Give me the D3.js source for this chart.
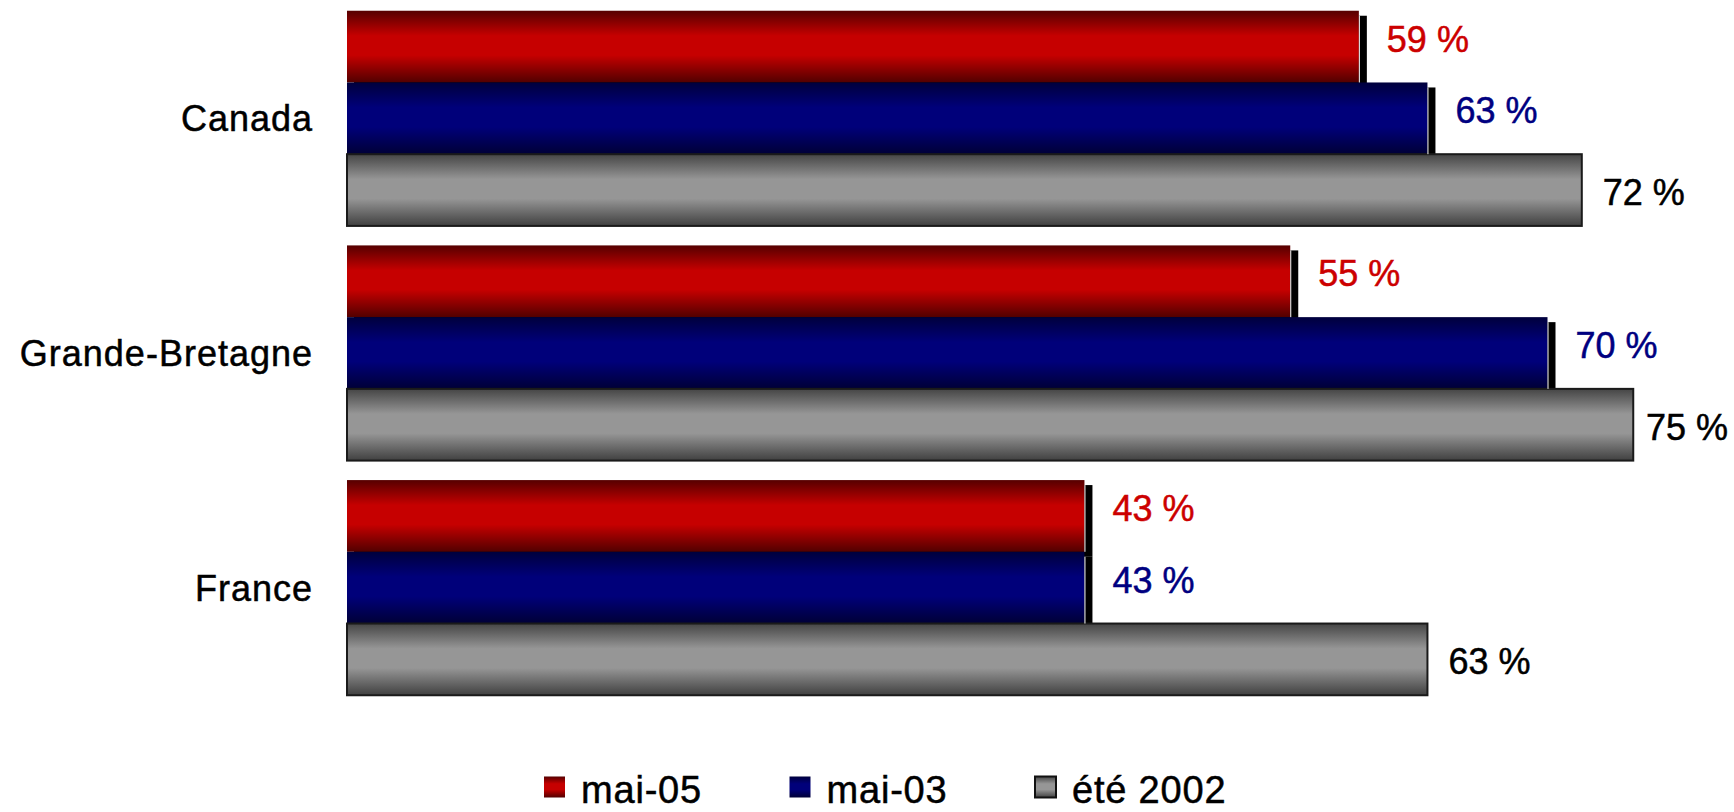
<!DOCTYPE html>
<html>
<head>
<meta charset="utf-8">
<script src="https://cdn.jsdelivr.net/npm/d3@7/dist/d3.min.js"></script>
<style>
  html, body { margin: 0; padding: 0; background: #fff; }
  svg { display: block; }
  text { font-family: "Liberation Sans", Arial, sans-serif; paint-order: stroke; stroke-width: 0.5px; }
</style>
</head>
<body>
<svg id="chart" width="1734" height="812"></svg>
<script>
// Pays interrogés
const categories = ["Canada", "Grande-Bretagne", "France"];
// Séries (vague d'enquête)
const seriesNames = ["mai-05", "mai-03", "été 2002"];
// Valeurs en %
const mai05 = [59, 55, 43];
const mai03 = [63, 70, 43];
const ete2002 = [72, 75, 63];

const seriesValues = [mai05, mai03, ete2002];
const seriesKeys = ["red", "blue", "gray"];
const labelColors = { red: "#cc0000", blue: "#000080", gray: "#000000" };

const W = 1734;
const svg = d3.select("#chart");
const defs = svg.append("defs");

// Dégradés verticaux « cylindre » pour chaque série
const gradients = {
  red:  [["0%", "#560000"], ["35%", "#c60000"], ["62%", "#c60000"], ["100%", "#520000"]],
  blue: [["0%", "#00003c"], ["35%", "#00007a"], ["62%", "#00007a"], ["100%", "#000036"]],
  gray: [["0%", "#454545"], ["35%", "#969696"], ["62%", "#969696"], ["100%", "#404040"]]
};
Object.entries(gradients).forEach(([k, stops]) => {
  const g = defs.append("linearGradient")
    .attr("id", "grad-" + k)
    .attr("x1", 0).attr("y1", 0).attr("x2", 0).attr("y2", 1);
  stops.forEach(([o, c]) => g.append("stop").attr("offset", o).attr("stop-color", c));
});

const x = d3.scaleLinear().domain([0, 100]).range([347, 2062]);
const y = d3.scaleBand().domain(categories).range([1, 705])
  .paddingInner(0.083).paddingOuter(0.0415);
const ySub = d3.scaleBand().domain(seriesKeys).range([0, y.bandwidth()]).padding(0);

const rows = categories.map((c, i) => ({
  cat: c,
  bars: seriesKeys.map((k, s) => ({ key: k, value: seriesValues[s][i] }))
}));

const groups = svg.selectAll("g.group").data(rows).join("g")
  .attr("class", "group")
  .attr("transform", d => `translate(0,${y(d.cat)})`);

// Ombres portées (rouge et bleu)
groups.selectAll("rect.shadow")
  .data(d => d.bars.filter(b => b.key !== "gray"))
  .join("rect")
  .attr("class", "shadow")
  .attr("x", x(0) + 7)
  .attr("y", d => ySub(d.key) + 5)
  .attr("width", d => x(d.value) - x(0) + 1)
  .attr("height", ySub.bandwidth())
  .attr("fill", "#000");

// Barres
groups.selectAll("rect.bar")
  .data(d => d.bars)
  .join("rect")
  .attr("class", "bar")
  .attr("x", x(0))
  .attr("y", d => ySub(d.key))
  .attr("width", d => x(d.value) - x(0))
  .attr("height", ySub.bandwidth())
  .attr("fill", d => `url(#grad-${d.key})`)
  .attr("stroke", d => d.key === "gray" ? "#1a1a1a" : "none")
  .attr("stroke-width", 2);

// Filet clair en bout de barre (rouge et bleu)
groups.selectAll("line.edge")
  .data(d => d.bars.filter(b => b.key !== "gray"))
  .join("line")
  .attr("class", "edge")
  .attr("x1", d => x(d.value) + 0.5)
  .attr("x2", d => x(d.value) + 0.5)
  .attr("y1", d => ySub(d.key) + 5)
  .attr("y2", d => ySub(d.key) + ySub.bandwidth())
  .attr("stroke", "#ffffff")
  .attr("stroke-width", 1);

// Étiquettes de valeur (maintenues dans la zone visible)
groups.selectAll("text.value")
  .data(d => d.bars)
  .join("text")
  .attr("class", "value")
  .attr("y", d => ySub(d.key) + ySub.bandwidth() / 2 + (d.key === "gray" ? 2 : -8))
  .attr("dy", "0.36em")
  .attr("font-size", 36)
  .attr("fill", d => labelColors[d.key])
  .attr("stroke", d => labelColors[d.key])
  .text(d => `${d.value} %`)
  .attr("x", function(d) {
    const want = x(d.value) + (d.key === "gray" ? 21 : 28);
    const w = this.getComputedTextLength();
    return Math.min(want, W - 6 - w);
  });

// Étiquettes de catégorie
groups.append("text")
  .attr("class", "cat")
  .attr("x", x(0) - 34)
  .attr("y", y.bandwidth() / 2)
  .attr("dy", "0.36em")
  .attr("text-anchor", "end")
  .attr("font-size", 36)
  .attr("letter-spacing", 1)
  .attr("fill", "#000")
  .attr("stroke", "#000")
  .text(d => d.cat);

// Légende
const legendX = d3.scalePoint().domain(seriesKeys).range([544, 1035]);
const legend = svg.append("g").attr("class", "legend");
const items = legend.selectAll("g").data(seriesKeys.map((k, i) => ({ key: k, name: seriesNames[i] })))
  .join("g")
  .attr("transform", d => `translate(${legendX(d.key)},776.5)`);
items.append("rect")
  .attr("width", 21).attr("height", 21)
  .attr("fill", d => `url(#grad-${d.key})`)
  .attr("stroke", d => d.key === "gray" ? "#111" : "none")
  .attr("stroke-width", 2);
items.append("text")
  .attr("x", 37)
  .attr("y", 26.5)
  .attr("font-size", 38)
  .attr("letter-spacing", 0.8)
  .attr("fill", "#000")
  .attr("stroke", "#000")
  .text(d => d.name);
</script>
</body>
</html>
